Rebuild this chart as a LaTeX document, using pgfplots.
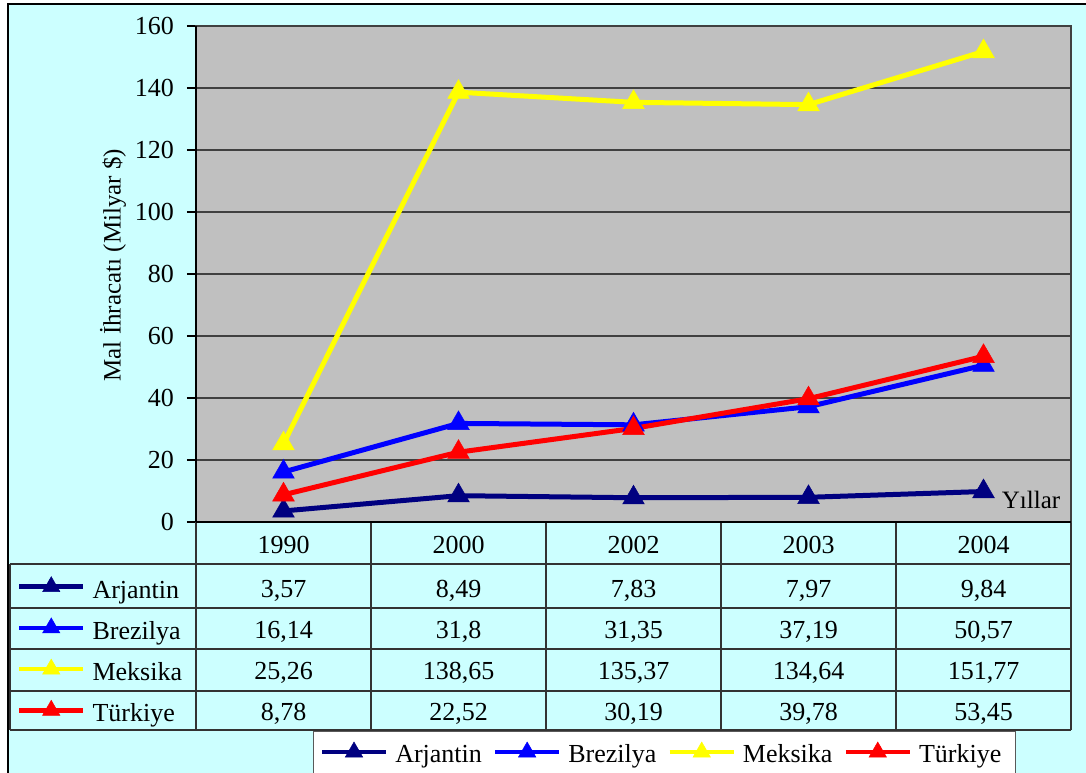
\documentclass[border=0pt]{standalone}
\usepackage{fontspec}
\setmainfont{Liberation Serif}
\usepackage{pgfplots}
\pgfplotsset{compat=1.18}
\definecolor{bgc}{HTML}{CCFFFF}
\definecolor{plotgray}{HTML}{C0C0C0}
\definecolor{navyc}{HTML}{000080}
\definecolor{bluec}{HTML}{0000FF}
\definecolor{yellowc}{HTML}{FFFF00}
\definecolor{redc}{HTML}{FF0000}
\definecolor{gridc}{HTML}{404040}
\definecolor{tabc}{HTML}{333333}
\newcommand{\bigf}{\fontsize{26}{30}\selectfont}
\newcommand{\cell}[3]{\node[font=\bigf, anchor=base, inner sep=0pt] at (#1pt,-#2pt) {#3};}
\begin{document}
\begin{tikzpicture}
\useasboundingbox (0pt,0pt) rectangle (1086pt,-773pt);
\fill[white] (0pt,0pt) rectangle (1086pt,-773pt);
\fill[bgc] (8pt,-4pt) rectangle (1086pt,-773pt);
\draw[black, line width=1.5pt] (8pt,-773pt) -- (8pt,-4pt) -- (1086pt,-4pt);
% legend box
\draw[gray!70!black, fill=white, line width=1pt] (313pt,-731pt) rectangle (1015pt,-776pt);
% table grid
\begin{scope}[tabc, line width=1.3pt]
\draw (10pt,-564pt) -- (1071pt,-564pt);
\draw (10pt,-608pt) -- (1071pt,-608pt);
\draw (10pt,-649pt) -- (1071pt,-649pt);
\draw (10pt,-691pt) -- (1071pt,-691pt);
\draw (10pt,-730pt) -- (1071pt,-730pt);
\draw (10pt,-564pt) -- (10pt,-730pt);
\foreach \xx in {196,371,546,721,896,1071} { \draw (\xx pt,-522pt) -- (\xx pt,-730pt); }
\end{scope}
% table values
\cell{283.5}{553}{1990}
\cell{458.5}{553}{2000}
\cell{633.5}{553}{2002}
\cell{808.5}{553}{2003}
\cell{983.5}{553}{2004}
\cell{283.5}{597}{3,57}
\cell{458.5}{597}{8,49}
\cell{633.5}{597}{7,83}
\cell{808.5}{597}{7,97}
\cell{983.5}{597}{9,84}
\cell{283.5}{638}{16,14}
\cell{458.5}{638}{31,8}
\cell{633.5}{638}{31,35}
\cell{808.5}{638}{37,19}
\cell{983.5}{638}{50,57}
\cell{283.5}{679}{25,26}
\cell{458.5}{679}{138,65}
\cell{633.5}{679}{135,37}
\cell{808.5}{679}{134,64}
\cell{983.5}{679}{151,77}
\cell{283.5}{720}{8,78}
\cell{458.5}{720}{22,52}
\cell{633.5}{720}{30,19}
\cell{808.5}{720}{39,78}
\cell{983.5}{720}{53,45}

\begin{axis}[
  at={(196pt,-522pt)}, anchor=south west,
  scale only axis, width=875pt, height=496pt,
  xmin=-0.5, xmax=4.5, ymin=0, ymax=160,
  xtick=\empty, ytick={0,20,...,160},
  ymajorgrids, grid style={gridc, line width=1.2pt},
  axis background/.style={fill=plotgray},
  axis line style={gridc, line width=1.2pt},
  tick align=outside, major tick length=9pt, tick style={black, line width=1.2pt},
  ytick pos=left,
  yticklabel style={font=\bigf, anchor=east, inner sep=0pt, xshift=-13pt},
  /pgf/number format/assume math mode=true,
  ylabel={Mal İhracatı (Milyar \$)},
  ylabel style={font=\fontsize{25}{29}\selectfont, at={(axis description cs:-0.0949,0.518)}, anchor=center},
  clip=false,
  every axis plot/.append style={line width=5pt, mark=triangle*, mark size=12.5pt, mark options={solid, line width=0.5pt}},
  legend columns=4,
  legend style={draw=none, fill=none, at={(0.5349,-0.4637)}, anchor=center, inner sep=0pt,
    /tikz/every even column/.append style={column sep=4pt},
    nodes={font=\bigf, inner xsep=7pt, inner ysep=0pt, text height=20pt, text depth=0pt}},
  legend image code/.code={\draw[mark repeat=2,mark phase=2,#1, line width=4.5pt, mark size=10pt] plot coordinates {(0pt,0pt)(32pt,0pt)(64pt,0pt)};},
]
\addplot[navyc] coordinates {(0,3.57) (1,8.49) (2,7.83) (3,7.97) (4,9.84)};
\addlegendentry{Arjantin}
\addplot[bluec] coordinates {(0,16.14) (1,31.8) (2,31.35) (3,37.19) (4,50.57)};
\addlegendentry{Brezilya}
\addplot[yellowc] coordinates {(0,25.26) (1,138.65) (2,135.37) (3,134.64) (4,151.77)};
\addlegendentry{Meksika}
\addplot[redc] coordinates {(0,8.78) (1,22.52) (2,30.19) (3,39.78) (4,53.45)};
\addlegendentry{Türkiye}
\draw[black, line width=2.5pt] (rel axis cs:0,0) -- (rel axis cs:1,0);
\draw[black, line width=2pt] (rel axis cs:0,0) -- (rel axis cs:0,1);
\end{axis}

\begin{axis}[
  at={(17pt,-566.1pt)}, anchor=south west, hide axis,
  scale only axis, width=10pt, height=10pt,
  xmin=0, xmax=1, ymin=0, ymax=1,
  legend columns=1, legend cell align=left,
  legend style={draw=none, fill=none, at={(0,0)}, anchor=north west, inner sep=0pt, outer sep=0pt, row sep=0pt,
    nodes={font=\bigf, inner xsep=7pt, inner ysep=0pt, text height=22.6pt, text depth=0pt, minimum height=41.2pt}},
  legend image code/.code={\draw[mark repeat=2,mark phase=2,#1] plot coordinates {(0pt,0pt)(32pt,0pt)(64pt,0pt)};},
]
\addlegendimage{navyc, line width=4.5pt, mark=triangle*, mark size=10pt, mark options={solid, line width=0.5pt}}
\addlegendentry{Arjantin}
\addlegendimage{bluec, line width=4.5pt, mark=triangle*, mark size=10pt, mark options={solid, line width=0.5pt}}
\addlegendentry{Brezilya}
\addlegendimage{yellowc, line width=4.5pt, mark=triangle*, mark size=10pt, mark options={solid, line width=0.5pt}}
\addlegendentry{Meksika}
\addlegendimage{redc, line width=4.5pt, mark=triangle*, mark size=10pt, mark options={solid, line width=0.5pt}}
\addlegendentry{Türkiye}
\end{axis}

\node[font=\fontsize{25}{30}\selectfont, anchor=base, inner sep=0pt] at (1031pt,-508pt) {Yıllar};
\end{tikzpicture}
\end{document}
